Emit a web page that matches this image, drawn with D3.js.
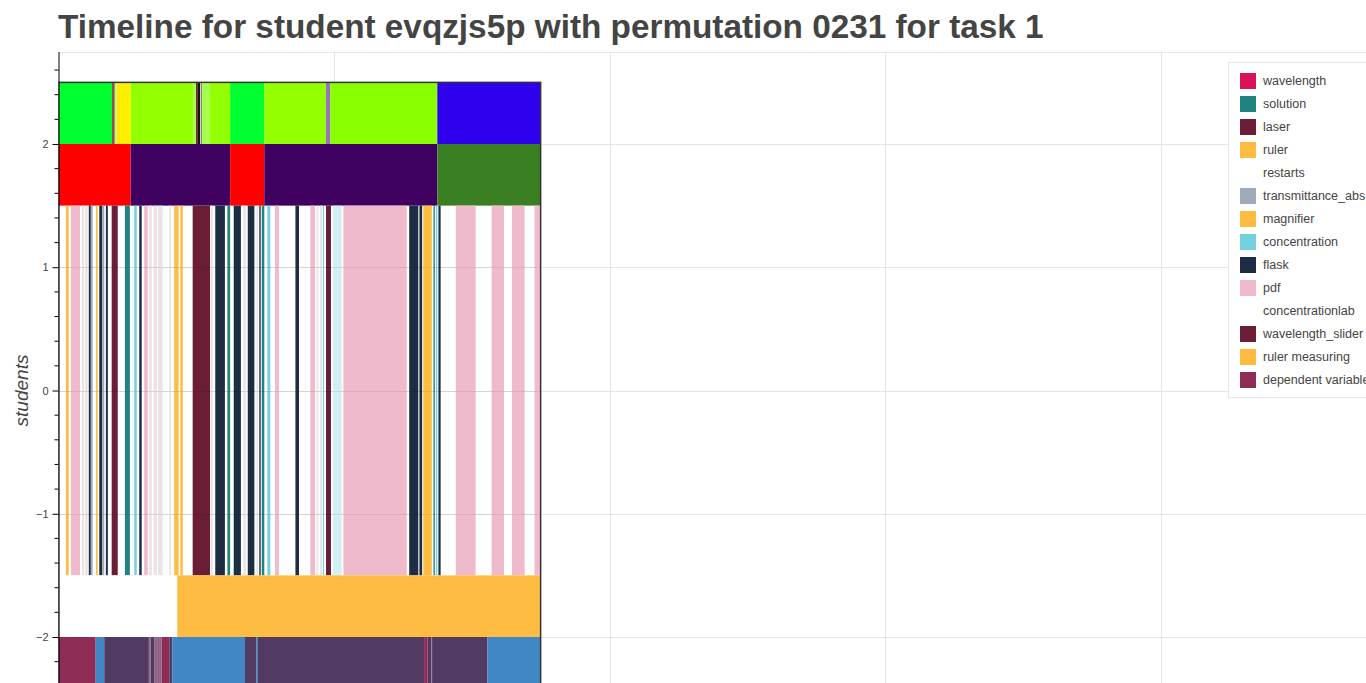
<!DOCTYPE html>
<html>
<head>
<meta charset="utf-8">
<script src="https://cdn.jsdelivr.net/npm/d3@7"></script>
<style>
  body { margin: 0; background: #fff; }
  svg { display: block; font-family: "Liberation Sans", Helvetica, Arial, sans-serif; }
</style>
</head>
<body>
<svg width="1366" height="683"></svg>
<script>
// timeline of one student, time in seconds, each row = one track
var titleText = "Timeline for student evqzjs5p with permutation 0231 for task 1";

// row 2.0 .. 2.5
var segTop = [
  [0, 195, "g_green"], [195, 201, "g_dark"], [201, 206, "g_gray"], [206, 211, "g_pale"],
  [211, 262, "g_yellow"], [262, 488, "g_lime"], [488, 499, "g_pale"], [499, 504, "g_dark"],
  [504, 514, "g_black"], [514, 517, "g_pale"], [517, 521, "g_violet"], [521, 550, "g_pale"],
  [550, 623, "g_lime"], [623, 747, "g_green"], [747, 971, "g_lime"], [971, 986, "g_violet"],
  [986, 1375, "g_lime2"], [1375, 1750, "g_blue"]
];
// row 1.5 .. 2.0
var segSecond = [
  [0, 262, "p_red"], [262, 623, "p_purple"], [623, 747, "p_red"],
  [747, 1375, "p_purple"], [1375, 1750, "p_green"]
];
// row -1.5 .. 1.5
var segMiddle = [
  [27, 37, "ruler"], [45, 78, "pdf"], [85, 93, "faint"], [97, 106, "faint"],
  [110, 117, "flask"], [118, 124, "transmittance_abs"], [136, 142, "ruler"], [148, 159, "flask"],
  [160, 166, "transmittance_abs"], [172, 179, "flask"], [193, 215, "laser"], [241, 259, "solution"],
  [275, 284, "concentration"], [293, 302, "flask"], [311, 324, "pdf"], [328, 339, "faint"],
  [345, 358, "faint"], [361, 378, "faint"], [402, 408, "faint"], [420, 436, "ruler"],
  [442, 451, "ruler"], [487, 550, "laser"], [554, 560, "faint"], [569, 604, "flask"],
  [613, 623, "solution"], [636, 662, "flask"], [671, 680, "faint"], [687, 711, "flask"],
  [719, 725, "faint"], [729, 734, "flask"], [738, 747, "solution"], [758, 769, "concentration"],
  [786, 800, "pdf"], [860, 873, "flask"], [914, 931, "pdf"], [937, 943, "faint"],
  [949, 958, "faint"], [960, 964, "concentration"], [971, 989, "wavelength_slider"],
  [997, 1028, "conc_light"], [1034, 1264, "pdf"], [1273, 1306, "flask"], [1310, 1320, "flask"],
  [1324, 1355, "magnifier"], [1361, 1366, "solution"], [1370, 1375, "concentration"],
  [1379, 1387, "flask"], [1442, 1514, "pdf"], [1572, 1617, "pdf"], [1646, 1692, "pdf"],
  [1728, 1748, "pdf"]
];
// row -2.0 .. -1.5
var segFourth = [
  [0, 431, "blank"], [431, 1750, "ruler measuring"]
];
// row -2.5 .. -2.0
var segBottom = [
  [0, 135, "dependent variable"], [135, 166, "b_blue"], [166, 328, "b_purple"], [328, 335, "b_mauve"],
  [335, 349, "b_purple"], [349, 374, "b_mauve"], [374, 402, "dependent variable"], [402, 413, "b_purple"],
  [413, 677, "b_blue"], [677, 719, "b_purple"], [719, 724, "b_blue"], [724, 1327, "b_purple"],
  [1327, 1340, "dependent variable"], [1340, 1353, "b_purple"], [1353, 1356, "b_mauve"],
  [1356, 1557, "b_purple"], [1557, 1750, "b_blue"]
];

var tracks = [
  [2.0, 2.5, segTop], [1.5, 2.0, segSecond], [-1.5, 1.5, segMiddle],
  [-2.0, -1.5, segFourth], [-2.5, -2.0, segBottom]
];

var legendKeys = ["wavelength", "solution", "laser", "ruler", "restarts", "transmittance_abs",
  "magnifier", "concentration", "flask", "pdf", "concentrationlab", "wavelength_slider",
  "ruler measuring", "dependent variable"];

var yTicks = [-2, -1, 0, 1, 2];
var xGrid = [1000, 2000, 3000, 4000];

var palette = {
  "wavelength": "#d81159", "solution": "#218380", "laser": "#6b1d35", "ruler": "#ffbc42",
  "restarts": null, "transmittance_abs": "#a0aab8", "magnifier": "#ffbc42",
  "concentration": "#73d2de", "flask": "#1d2d44", "pdf": "#efbacb", "concentrationlab": null,
  "wavelength_slider": "#6b1d35", "ruler measuring": "#ffbc42", "dependent variable": "#8f2d56",
  "faint": "#ebe3e5", "conc_light": "#d2eff2", "blank": "#ffffff",
  "g_green": "#00ff2e", "g_yellow": "#ffee00", "g_lime": "#94ff00", "g_lime2": "#88ff00",
  "g_blue": "#2f00ee", "g_pale": "#a8ff50", "g_dark": "#8a2030", "g_black": "#151515",
  "g_violet": "#9a70c0", "g_gray": "#a09880",
  "p_red": "#ff0000", "p_purple": "#3f005f", "p_green": "#3a7f22",
  "b_blue": "#4287c5", "b_purple": "#513b63", "b_mauve": "#93678a"
};

var svg = d3.select("svg"),
    width = +svg.attr("width"),
    height = +svg.attr("height");

var x = d3.scaleLinear().domain([0, 5000]).range([58.5, 58.5 + 5 * 275.5]);
var y = d3.scaleLinear().domain([-2, 2]).range([637, 144]);
var plotTop = y(2.75), plotLeft = 58.5;

svg.append("defs").append("clipPath").attr("id", "plotclip")
  .append("rect").attr("x", plotLeft).attr("y", plotTop)
  .attr("width", width - plotLeft).attr("height", height - plotTop);

var plot = svg.append("g").attr("clip-path", "url(#plotclip)");

// grid
plot.append("g").selectAll("line").data(yTicks).enter().append("line")
  .attr("x1", plotLeft).attr("x2", width)
  .attr("y1", function(d) { return Math.round(y(d)) + 0.5; })
  .attr("y2", function(d) { return Math.round(y(d)) + 0.5; })
  .attr("stroke", "#e5e5e5");
plot.append("g").selectAll("line").data(xGrid).enter().append("line")
  .attr("y1", plotTop).attr("y2", height)
  .attr("x1", function(d) { return Math.round(x(d)) + 0.5; })
  .attr("x2", function(d) { return Math.round(x(d)) + 0.5; })
  .attr("stroke", "#e5e5e5");

// bars
tracks.forEach(function(t) {
  plot.append("g").selectAll("rect").data(t[2]).enter().append("rect")
    .attr("x", function(d) { return x(d[0]); })
    .attr("width", function(d) { return x(d[1]) - x(d[0]); })
    .attr("y", y(t[1]))
    .attr("height", y(t[0]) - y(t[1]))
    .attr("fill", function(d) { return palette[d[2]]; });
});

// grid lines showing through the stripe band
plot.append("g").selectAll("line").data([-1, 0, 1]).enter().append("line")
  .attr("x1", plotLeft).attr("x2", x(1750))
  .attr("y1", function(d) { return Math.round(y(d)) + 0.5; })
  .attr("y2", function(d) { return Math.round(y(d)) + 0.5; })
  .attr("stroke", "#000").attr("stroke-opacity", 0.07);

// outline of the timeline block
plot.append("rect")
  .attr("x", x(0)).attr("y", y(2.5))
  .attr("width", x(1750) - x(0)).attr("height", y(-2.5) - y(2.5))
  .attr("fill", "none").attr("stroke", "#333").attr("stroke-width", 1.5);

// plot outline
svg.append("line").attr("x1", plotLeft).attr("x2", width)
  .attr("y1", Math.round(plotTop) + 0.5).attr("y2", Math.round(plotTop) + 0.5)
  .attr("stroke", "#e5e5e5");

// y axis
var yAxisScale = d3.scaleLinear().domain([y.invert(height), 2.75]).range([height, plotTop]);
var yAxis = svg.append("g").attr("transform", "translate(" + plotLeft + ",0)")
  .call(d3.axisLeft(yAxisScale).tickValues(yTicks).tickFormat(d3.format("d"))
    .tickSize(6).tickSizeOuter(0).tickPadding(4));
yAxis.select(".domain").attr("stroke", "#000");
yAxis.selectAll(".tick line").attr("stroke", "#000");
yAxis.selectAll(".tick text").attr("fill", "#444").style("font-size", "11px")
  .style("font-family", "Liberation Sans, Helvetica, Arial, sans-serif");

var minor = d3.range(-2.2, 2.75, 0.2).filter(function(v) { return Math.abs(v - Math.round(v)) > 0.01; });
yAxis.append("g").selectAll("line").data(minor).enter().append("line")
  .attr("x1", -4).attr("x2", 0)
  .attr("y1", function(d) { return yAxisScale(d); })
  .attr("y2", function(d) { return yAxisScale(d); })
  .attr("stroke", "#000");

svg.append("text")
  .attr("transform", "translate(21," + y(0) + ") rotate(-90)")
  .attr("text-anchor", "middle")
  .attr("dominant-baseline", "central")
  .style("font-size", "19px").style("font-style", "italic")
  .attr("fill", "#444")
  .text("students");

// title
svg.append("text")
  .attr("x", 58).attr("y", 38)
  .style("font-size", "33.3px").style("font-weight", "bold")
  .attr("fill", "#444")
  .text(titleText);

// legend
var legend = svg.append("g").attr("transform", "translate(1228.5,62.5)");
legend.append("rect")
  .attr("width", 200).attr("height", 335)
  .attr("fill", "#fff").attr("fill-opacity", 0.95)
  .attr("stroke", "#e5e5e5");
var item = legend.selectAll("g.item").data(legendKeys).enter().append("g")
  .attr("class", "item")
  .attr("transform", function(d, i) { return "translate(0," + (18 + i * 23) + ")"; });
item.append("rect")
  .attr("x", 11.5).attr("y", -7.5).attr("width", 16).attr("height", 16)
  .attr("fill", function(d) { return palette[d] || "none"; });
item.append("text")
  .attr("x", 34.5).attr("y", 0)
  .attr("dominant-baseline", "central")
  .style("font-size", "12.5px")
  .attr("fill", "#444")
  .text(function(d) { return d; });
</script>
</body>
</html>
